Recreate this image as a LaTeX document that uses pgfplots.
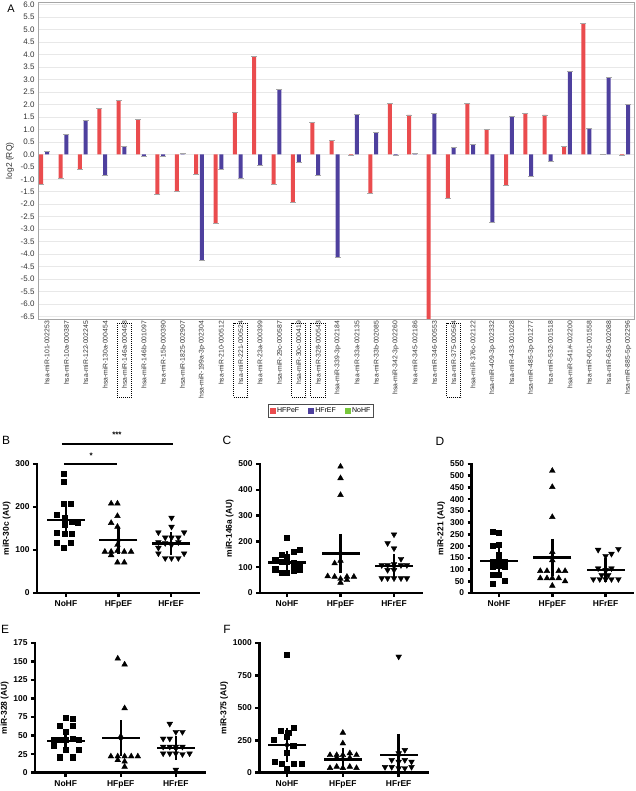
\documentclass[border=0pt]{standalone}
\usepackage{pgfplots}
\pgfplotsset{compat=1.18}
\usepackage{pgfplotstable}
\usepackage{fontspec}
\setmainfont{Liberation Sans}
\definecolor{hfred}{RGB}{234,76,78}
\definecolor{hfblue}{RGB}{78,64,158}
\definecolor{hfgreen}{RGB}{120,200,60}
\pgfplotstableread{
i red blue
1 -1.20 0.10
2 -0.95 0.80
3 -0.62 1.35
4 1.85 -0.85
5 2.15 0.33
6 1.40 -0.08
7 -1.60 -0.10
8 -1.50 0.02
9 -0.82 -4.25
10 -2.78 -0.60
11 1.67 -0.96
12 3.93 -0.45
13 -1.20 2.60
14 -1.93 -0.33
15 1.28 -0.86
16 0.57 -4.15
17 -0.05 1.60
18 -1.58 0.88
19 2.05 -0.05
20 1.58 0.02
21 -6.60 1.64
22 -1.75 0.27
23 2.05 0.40
24 1.00 -2.72
25 -1.25 1.51
26 1.64 -0.87
27 1.58 -0.27
28 0.31 3.32
29 5.23 1.04
30 0.01 3.09
31 -0.03 2.00
}\barsA
\pgfplotsset{
 /pgf/number format/assume math mode=true,
 /pgf/number format/1000 sep={},
 ppanel/.style={
  scale only axis, anchor=south west, clip=false,
  axis x line=bottom, axis y line=left,
  axis line style={-, line width=2.8bp, black, line cap=rect},
  tick align=outside, major tick length=4bp,
  tick style={black, line width=2.5bp},
  xtick={0,1,2}, xticklabels={NoHF,HFpEF,HFrEF},
  tick label style={font=\bfseries\fontsize{8.5}{9}\selectfont},
  ylabel style={font=\bfseries\fontsize{8.5}{9}\selectfont},
  ylabel shift=-2bp,
  ymin=0, minor tick num=0,
 },
 sq/.style={only marks, mark=square*, mark size=2.6bp, black},
 tri/.style={only marks, mark=triangle*, mark size=3.3bp, black},
 itri/.style={only marks, mark=triangle*, mark size=3.3bp, black, mark options={rotate=180}},
 meanline/.style={only marks, mark=-, mark size=19bp, black, mark options={line width=2.5bp}},
 semline/.style={only marks, mark=none, black, error bars/.cd, y dir=both, y explicit,
   error bar style={line width=2.5bp}, error mark options={mark size=9bp, line width=2.5bp}},
}
\begin{document}
\begin{tikzpicture}
\useasboundingbox (0,0) rectangle (636bp,791bp);
% ---------------- Panel A ----------------
\begin{axis}[
 at={(38bp,472bp)}, anchor=south west, scale only axis,
 width=596bp, height=316.3bp,
 xmin=0.535, xmax=31.31, ymin=-6.6, ymax=6.08, clip=false,
 axis line style={draw=black!35, line width=0.8bp},
 ytick={-6.5,-6.0,-5.5,-5.0,-4.5,-4.0,-3.5,-3.0,-2.5,-2.0,-1.5,-1.0,-0.5,0,0.5,1.0,1.5,2.0,2.5,3.0,3.5,4.0,4.5,5.0,5.5,6.0},
 yticklabel style={/pgf/number format/fixed, /pgf/number format/fixed zerofill, /pgf/number format/precision=1},
 y tick label style={font=\fontsize{8}{8}\selectfont, text=black!80},
 ymajorgrids, grid style={black!9, line width=0.6bp},
 major tick length=0pt,
 xtick={1,...,31},
 xticklabels={hsa-miR-101-002253,hsa-miR-10a-000387,hsa-miR-122-002245,hsa-miR-130a-000454,hsa-miR-146a-000468,hsa-miR-146b-001097,hsa-miR-15b-000390,hsa-miR-1825-002907,hsa-miR-199a-3p-002304,hsa-miR-210-000512,hsa-miR-221-000524,hsa-miR-23a-000399,hsa-miR-29c-000587,hsa-miR-30c-000419,hsa-miR-328-000543,hsa-miR-339-3p-002184,hsa-miR-33a-002135,hsa-miR-33b-002085,hsa-miR-342-3p-002260,hsa-miR-345-002186,hsa-miR-346-000553,hsa-miR-375-000564,hsa-miR-376c-002122,hsa-miR-409-3p-002332,hsa-miR-433-001028,hsa-miR-485-3p-001277,hsa-miR-532-001518,hsa-miR-541\#-002200,hsa-miR-601-001558,hsa-miR-636-002088,hsa-miR-885-5p-002296},
 x tick label style={rotate=90, anchor=east, font=\fontsize{6.8}{7}\selectfont, text=black!80, inner sep=2bp},
 ylabel={log2 (RQ)}, ylabel style={font=\fontsize{8.5}{9}\selectfont, text=black!80},
 legend style={at={(0.475,-0.291)}, anchor=center, draw=black!70, line width=0.6bp,
   font=\fontsize{7}{7.5}\selectfont, inner sep=1.2bp,
   /tikz/every even column/.append style={column sep=7bp}},
 legend columns=3,
]
\addplot[ybar, bar width=4bp, bar shift=-5.8bp, fill=hfred, draw=none, forget plot]
  table[x=i, y=red]{\barsA};
\addplot[ybar, bar width=4bp, bar shift=0bp, fill=hfblue, draw=none, forget plot]
  table[x=i, y=blue]{\barsA};
\addplot[only marks, mark=-, mark size=3bp, draw=black!35, mark options={line width=0.8bp}, xshift=-5.8bp, forget plot]
  table[x=i, y=red]{\barsA};
\addplot[only marks, mark=-, mark size=3bp, draw=black!35, mark options={line width=0.8bp}, forget plot]
  table[x=i, y=blue]{\barsA};
\addlegendimage{legend image code/.code={\fill[hfred] (0bp,-2.3bp) rectangle (4.6bp,2.3bp);}}
\addlegendentry{HFPeF}
\addlegendimage{legend image code/.code={\fill[hfblue] (0bp,-2.3bp) rectangle (4.6bp,2.3bp);}}
\addlegendentry{HFrEF}
\addlegendimage{legend image code/.code={\fill[hfgreen] (0bp,-2.3bp) rectangle (4.6bp,2.3bp);}}
\addlegendentry{NoHF}
\foreach \c in {5,11,14,15,22}{
  \edef\tmp{\noexpand\draw[densely dotted, line width=1bp] (axis cs:\c-0.37,-6.78) rectangle (axis cs:\c+0.37,-9.74);}
  \tmp
}
\end{axis}
% ---------------- Panel B ----------------
\begin{axis}[ppanel, at={(37bp,198bp)}, width=162bp, height=129bp,
 xmin=-0.552, xmax=2.533, ymax=300, ytick={0,100,200,300}, ylabel={miR-30c (AU)}]
\addplot[sq] table {
x y
-0.04 277
-0.04 259
-0.04 208
0.09 208
-0.18 183
-0.03 175
0.11 166
0.23 164
-0.03 160
-0.18 141
-0.03 137
0.11 137
-0.17 117
0.09 117
-0.04 106
};
\addplot[tri] table {
x y
0.86 208
0.98 208
0.98 179
0.86 163
0.98 154
0.98 112
0.74 96
0.86 96
0.98 98
1.11 96
1.24 96
0.86 88
0.98 71
1.11 71
};
\addplot[itri] table {
x y
2.01 175
2.01 154
1.76 141
2.25 141
1.89 129
2.01 129
2.14 129
1.76 118
1.89 116
2.14 118
2.01 112
1.76 105
1.76 92
2.25 92
1.89 81
2.01 81
2.14 81
};
\addplot[meanline] table {
x m
0 170
1 123
2 115
};
\addplot[semline] table[x=x, y=m, y error=s] {
x m s
0 170 12.5
1 123 10.5
2 115 5
};
\draw[line width=2.6bp] (axis cs:-0.076,346.5) -- (axis cs:2.04,346.5);
\draw[line width=2.6bp] (axis cs:-0.04,300) -- (axis cs:0.97,300);
\node[font=\bfseries\fontsize{8}{8}\selectfont] at (axis cs:0.97,367) {***};
\node[font=\bfseries\fontsize{8}{8}\selectfont] at (axis cs:0.48,320) {*};
\end{axis}
% ---------------- Panel C ----------------
\begin{axis}[ppanel, at={(260bp,198bp)}, width=162bp, height=129bp,
 xmin=-0.505, xmax=2.523, ymax=500, ytick={0,100,...,500}, ylabel={miR-146a (AU)}]
\addplot[sq] table {
x y
0 214
0.12 160
0.24 167
-0.1 148
0 140
-0.22 128
-0.1 122
0 120
0.12 118
0.24 115
0.12 110
-0.22 92
-0.1 80
0 78
0.12 85
0.24 89
};
\addplot[tri] table {
x y
1 490
1 445
1 380
1 125
0.89 115
0.76 65
0.89 63
1.12 63
1.25 63
1 55
1 40
1.12 50
};
\addplot[itri] table {
x y
2 227
1.88 193
2 173
2.13 132
1.77 108
1.88 108
2 112
2.13 108
2.24 108
1.88 89
2 89
1.77 57
1.88 57
2 57
2.13 57
2.24 57
};
\addplot[meanline] table {
x m
0 119
1 154
2 105
};
\addplot[semline] table[x=x, y=m, y error=s] {
x m s
0 119 9
1 154 40
2 105 12
};
\end{axis}
% ---------------- Panel D ----------------
\begin{axis}[ppanel, at={(471.7bp,198bp)}, width=161.3bp, height=129bp,
 xmin=-0.512, xmax=2.514, ymax=550, ytick={0,50,...,550}, ylabel={miR-221 (AU)}]
\addplot[sq] table {
x y
-0.125 262
0 258
-0.125 202
0 205
0 162
-0.125 134
0 140
0.11 134
-0.125 112
0 115
0.11 112
-0.125 77
0 77
-0.125 41
0.11 51
};
\addplot[tri] table {
x y
1 521
1 452
1 324
1 175
1 140
0.775 94
0.9 94
1.12 94
1.24 94
0.775 63
0.9 63
1 63
1.12 63
1.24 50
1 31
};
\addplot[itri] table {
x y
1.86 184
2.24 188
2 158
2.11 167
1.86 105
2 98
2.11 105
1.925 77
2.05 77
1.77 59
1.89 59
2 59
2.11 59
2.24 59
};
\addplot[meanline] table {
x m
0 137
1 152
2 97
};
\addplot[semline] table[x=x, y=m, y error=s] {
x m s
0 137 18
1 152 40
2 97 12
};
\end{axis}
% ---------------- Panel E ----------------
\begin{axis}[ppanel, at={(35bp,18.3bp)}, width=170bp, height=129.7bp,
 xmin=-0.558, xmax=2.53, ymax=175, ytick={0,25,...,175}, ylabel={miR-328 (AU)}]
\addplot[sq] table {
x y
0 74
0.12 73
-0.115 63
0.12 63
0 55
-0.22 45
-0.115 44
0 45
0.12 46
0.23 45
-0.22 36
0 31
0.23 31
-0.115 21
0.12 21
};
\addplot[tri] table {
x y
0.945 154
1.07 146
1.07 87
1 49
0.82 22
0.945 22
1.07 22
1.19 22
1.31 22
0.945 17
1.07 15
1.07 8
};
\addplot[itri] table {
x y
1.89 66
2 55
2.12 55
1.77 46
1.89 46
1.77 35
1.89 35
2 35
2.12 35
1.77 26
1.89 26
2 26
2.12 25
2.25 26
2 4
};
\addplot[meanline] table {
x m
0 43
1 46.5
2 33
};
\addplot[semline] table[x=x, y=m, y error=s] {
x m s
0 43 4
1 46.5 12
2 33 4
};
\end{axis}
% ---------------- Panel F ----------------
\begin{axis}[ppanel, at={(259.3bp,18.3bp)}, width=168.7bp, height=129.7bp,
 xmin=-0.496, xmax=2.525, ymax=1000, ytick={0,250,500,750,1000}, ylabel={miR-375 (AU)}]
\addplot[sq] table {
x y
0 907
-0.11 324
0.02 308
0.125 350
0 278
-0.245 255
0 154
-0.215 85
-0.1 67
0.125 67
0.26 67
0 31
0.11 210
};
\addplot[tri] table {
x y
1 308
1 226
0.77 136
0.89 136
1 136
1.125 150
1.245 136
0.89 115
1.125 115
0.77 36
0.89 46
1 36
1.125 46
1.245 36
};
\addplot[itri] table {
x y
2 895
2.11 175
1.875 98
2 85
2.11 98
2.23 85
1.755 44
1.875 44
2 35
2.11 35
2.23 44
2 150
};
\addplot[meanline] table {
x m
0 214
1 103
2 137
};
\addplot[semline] table[x=x, y=m, y error=s] {
x m s
0 214 62
1 103 15
2 137 92
};
\end{axis}
% ---------------- Panel letters ----------------
\node[font=\fontsize{11}{11}\selectfont] at (11bp,782.5bp) {A};
\node[font=\fontsize{12}{12}\selectfont] at (6bp,351bp) {B};
\node[font=\fontsize{12}{12}\selectfont] at (227bp,351bp) {C};
\node[font=\fontsize{12}{12}\selectfont] at (440bp,350bp) {D};
\node[font=\fontsize{12}{12}\selectfont] at (5bp,162bp) {E};
\node[font=\fontsize{12}{12}\selectfont] at (227bp,162bp) {F};
\end{tikzpicture}
\end{document}
